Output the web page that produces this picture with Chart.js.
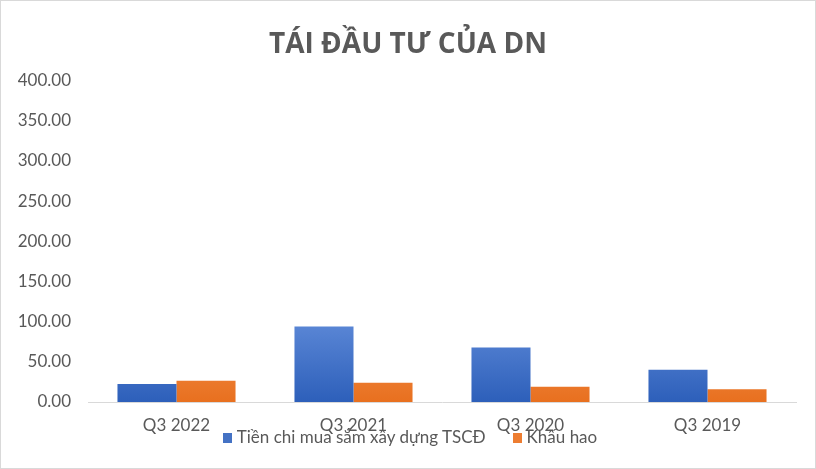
<!DOCTYPE html>
<html>
<head>
<meta charset="utf-8">
<script src="https://cdn.jsdelivr.net/npm/chart.js@4"></script>
<style>
    html, body { margin: 0; padding: 0; background: #ffffff; }
    #wrap {
        position: relative;
        width: 816px; height: 469px;
        box-sizing: border-box;
        border: 1px solid #d9d9d9;
        background: #ffffff;
    }
    #legend {
        position: absolute;
        left: 0; right: 0; top: 426px;
        display: flex;
        justify-content: center;
        gap: 27px;
        font-family: Lato, sans-serif;
        font-size: 17px;
        color: #595959;
        line-height: 20px;
        padding-left: 4px;
    }
    #legend span.box {
        display: inline-block;
        width: 9px; height: 10px;
        margin-right: 5px;
        vertical-align: 0px;
    }
</style>
</head>
<body>
<div id="wrap">
    <canvas id="chart"></canvas>
    <div id="legend"></div>
</div>
<script>
// Chart data
const categories = ['Q3 2022', 'Q3 2021', 'Q3 2020', 'Q3 2019'];
const capexValues = [22.4, 93.9, 67.7, 40.0];
const depreciationValues = [26.5, 24.0, 19.0, 16.0];
const seriesLabels = ['Tiền chi mua sắm xây dựng TSCĐ', 'Khấu hao'];
const seriesColors = ['#4472c4', '#ed7d31'];

const textColor = '#595959';
const fontFamily = 'Lato, sans-serif';

/**
 * Vertical gradient for bar fill
 */
function barGradient(context, top, bottom) {
    const area = context.chart.chartArea;
    if (!area) return bottom;
    const g = context.chart.ctx.createLinearGradient(0, area.top, 0, area.bottom);
    g.addColorStop(0.75, top);
    g.addColorStop(1, bottom);
    return g;
}

/**
 * Build HTML legend under the axis labels
 */
function buildLegend() {
    document.getElementById('legend').innerHTML = seriesLabels.map((label, i) => `
        <div><span class="box" style="background:${seriesColors[i]}"></span>${label}</div>
    `).join('');
}

const ctx = document.getElementById('chart').getContext('2d');

new Chart(ctx, {
    type: 'bar',
    data: {
        labels: categories,
        datasets: [
            {
                label: seriesLabels[0],
                data: capexValues,
                backgroundColor: c => barGradient(c, '#5b87d6', '#2d5fba')
            },
            {
                label: seriesLabels[1],
                data: depreciationValues,
                backgroundColor: c => barGradient(c, '#f3914f', '#e8701f')
            }
        ]
    },
    options: {
        responsive: true,
        maintainAspectRatio: false,
        animation: false,
        datasets: {
            bar: {
                categoryPercentage: 0.667,
                barPercentage: 1.0
            }
        },
        layout: {
            padding: { left: 0, right: 0, top: 0, bottom: 26 }
        },
        plugins: {
            title: {
                display: true,
                text: 'TÁI ĐẦU TƯ CỦA DN',
                color: textColor,
                font: { family: '"Open Sans", sans-serif', size: 28, weight: 'bold' },
                padding: { top: 27, bottom: 19 }
            },
            legend: { display: false },
            tooltip: { enabled: false }
        },
        scales: {
            x: {
                grid: { display: false },
                border: { display: true, color: '#d9d9d9', width: 1 },
                ticks: {
                    color: textColor,
                    font: { family: fontFamily, size: 17 },
                    padding: 5
                },
                afterFit: scale => { scale.height = 40; }
            },
            y: {
                min: 0,
                max: 400,
                grid: { display: false },
                border: { display: false },
                ticks: {
                    stepSize: 50,
                    color: textColor,
                    font: { family: fontFamily, size: 17 },
                    padding: 9,
                    callback: v => Number(v).toFixed(2)
                },
                afterFit: scale => { scale.width = 87; }
            },
            // empty right axis: only reserves the right margin of the plot
            yRight: {
                position: 'right',
                min: 0,
                max: 400,
                grid: { display: false },
                border: { display: false },
                ticks: { display: false },
                afterFit: scale => { scale.width = 19; }
            }
        }
    }
});

buildLegend();
</script>
</body>
</html>
